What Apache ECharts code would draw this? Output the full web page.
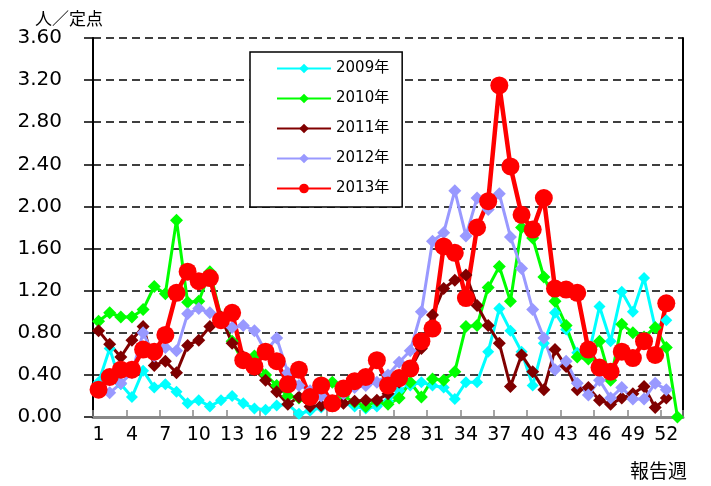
<!DOCTYPE html>
<html>
<head>
<meta charset="utf-8">
<script src="https://cdn.jsdelivr.net/npm/echarts@6/dist/echarts.min.js"></script>
<style>
    html, body { margin: 0; padding: 0; background: #fff; }
    #chart { width: 711px; height: 486px; }
</style>
</head>
<body>
<div id="chart"></div>
<script>
    // 報告週
    var weeks = ['1','2','3','4','5','6','7','8','9','10','11','12','13','14','15','16','17','18','19','20',
        '21','22','23','24','25','26','27','28','29','30','31','32','33','34','35','36','37','38','39','40',
        '41','42','43','44','45','46','47','48','49','50','51','52','53'];

    // 人／定点 per year
    var y2009 = [0.33,0.65,0.31,0.19,0.44,0.28,0.31,0.24,0.13,0.16,0.10,0.16,0.20,0.13,0.08,0.07,0.11,0.12,0.03,0.06,
        0.09,0.10,0.13,0.10,0.08,0.10,0.15,0.25,0.30,0.33,0.30,0.28,0.17,0.33,0.33,0.62,1.03,0.82,0.62,0.30,
        0.70,0.99,0.83,0.61,0.58,1.05,0.72,1.19,1.00,1.32,0.85,0.92];
    var y2010 = [0.91,0.99,0.95,0.95,1.02,1.24,1.17,1.87,1.09,1.10,1.38,0.95,0.72,0.52,0.58,0.40,0.30,0.20,0.18,0.22,
        0.33,0.33,0.20,0.14,0.10,0.15,0.12,0.18,0.33,0.19,0.36,0.35,0.43,0.86,0.87,1.23,1.43,1.10,1.80,1.70,
        1.33,1.10,0.87,0.57,0.55,0.72,0.35,0.88,0.80,0.76,0.85,0.66,0.00];
    var y2011 = [0.82,0.69,0.57,0.73,0.86,0.49,0.53,0.42,0.68,0.73,0.86,0.95,0.70,0.57,0.45,0.35,0.24,0.12,0.19,0.10,
        0.11,0.12,0.13,0.15,0.16,0.16,0.22,0.33,0.45,0.65,0.97,1.22,1.30,1.35,1.06,0.87,0.70,0.29,0.59,0.43,
        0.26,0.64,0.48,0.26,0.28,0.16,0.12,0.18,0.22,0.29,0.09,0.18];
    var y2012 = [0.24,0.23,0.32,0.42,0.80,0.58,0.66,0.63,0.98,1.03,0.99,0.92,0.85,0.87,0.82,0.62,0.75,0.42,0.30,0.25,
        0.20,0.15,0.22,0.28,0.30,0.33,0.40,0.52,0.63,1.00,1.67,1.75,2.15,1.72,2.08,1.97,2.12,1.71,1.41,1.02,
        0.75,0.45,0.53,0.32,0.21,0.35,0.18,0.28,0.17,0.17,0.32,0.26];
    var y2013 = [0.26,0.38,0.45,0.45,0.64,0.62,0.78,1.18,1.38,1.29,1.32,0.92,0.99,0.54,0.48,0.62,0.53,0.31,0.45,0.19,
        0.30,0.13,0.27,0.34,0.38,0.54,0.30,0.37,0.46,0.72,0.84,1.62,1.56,1.13,1.80,2.05,3.15,2.38,1.92,1.78,
        2.08,1.22,1.21,1.18,0.64,0.47,0.43,0.62,0.56,0.72,0.59,1.08];

    var yearNames = ['2009年', '2010年', '2011年', '2012年', '2013年'];
    var yearColors = ['#00ffff', '#00ff00', '#800000', '#9999ff', '#ff0000'];

    var cjk = "'Noto Sans CJK JP', sans-serif";
    var num = "'DejaVu Sans', 'Noto Sans CJK JP', sans-serif";

    function lineSeries(i, data, symbol, size, width) {
        return {
            name: yearNames[i],
            type: 'line',
            data: data,
            symbol: symbol,
            symbolSize: size,
            showSymbol: true,
            showAllSymbol: true,
            color: yearColors[i],
            lineStyle: { color: yearColors[i], width: width },
            itemStyle: { color: yearColors[i] },
            emphasis: { disabled: true },
            animation: false
        };
    }

    var chart = echarts.init(document.getElementById('chart'));
    chart.setOption({
        backgroundColor: '#fff',
        textStyle: { fontFamily: num },
        title: {
            text: '人／定点',
            left: 30,
            top: 5,
            textStyle: { fontSize: 17, fontWeight: 'normal', color: '#000', fontFamily: cjk }
        },
        graphic: [{
            type: 'text',
            left: 630,
            top: 461,
            style: { text: '報告週', fontSize: 19, fill: '#000', fontFamily: cjk }
        }],
        legend: {
            orient: 'vertical',
            left: 250,
            top: 52,
            padding: [9, 13, 11, 26],
            itemGap: 15,
            itemWidth: 54,
            itemHeight: 12,
            borderColor: '#000',
            borderWidth: 1.5,
            backgroundColor: '#fff',
            textStyle: { fontSize: 15, color: '#000', fontFamily: num },
            data: yearNames
        },
        grid: { left: 93, right: 28, top: 38, bottom: 69, containLabel: false },
        xAxis: {
            type: 'category',
            data: weeks,
            boundaryGap: true,
            axisLine: { lineStyle: { color: '#888', width: 3 } },
            axisTick: { show: true, inside: true, length: 7, lineStyle: { color: '#888', width: 1.5 } },
            axisLabel: { interval: 2, fontSize: 19, color: '#000', margin: 9, fontFamily: num },
            splitLine: { show: false }
        },
        yAxis: [{
            type: 'value',
            min: 0,
            max: 3.6,
            interval: 0.4,
            axisLine: { show: true, lineStyle: { color: '#000', width: 2 } },
            axisTick: { show: true, length: 9, lineStyle: { color: '#000', width: 1.5 } },
            axisLabel: {
                fontSize: 20, color: '#000', margin: 31, fontFamily: num,
                formatter: function (v) { return v.toFixed(2); }
            },
            splitLine: { show: true, lineStyle: { color: '#000', type: [8, 5], width: 1.5 } }
        }, {
            type: 'value',
            position: 'right',
            min: 0,
            max: 3.6,
            interval: 0.4,
            axisLine: { show: true, lineStyle: { color: '#000', width: 2 } },
            axisTick: { show: false },
            axisLabel: { show: false },
            splitLine: { show: false }
        }],
        series: [
            lineSeries(0, y2009, 'diamond', 12, 3),
            lineSeries(1, y2010, 'diamond', 13, 3),
            lineSeries(2, y2011, 'diamond', 13, 3),
            lineSeries(3, y2012, 'diamond', 13, 3),
            lineSeries(4, y2013, 'circle', 18, 4.5)
        ]
    });
</script>
</body>
</html>
